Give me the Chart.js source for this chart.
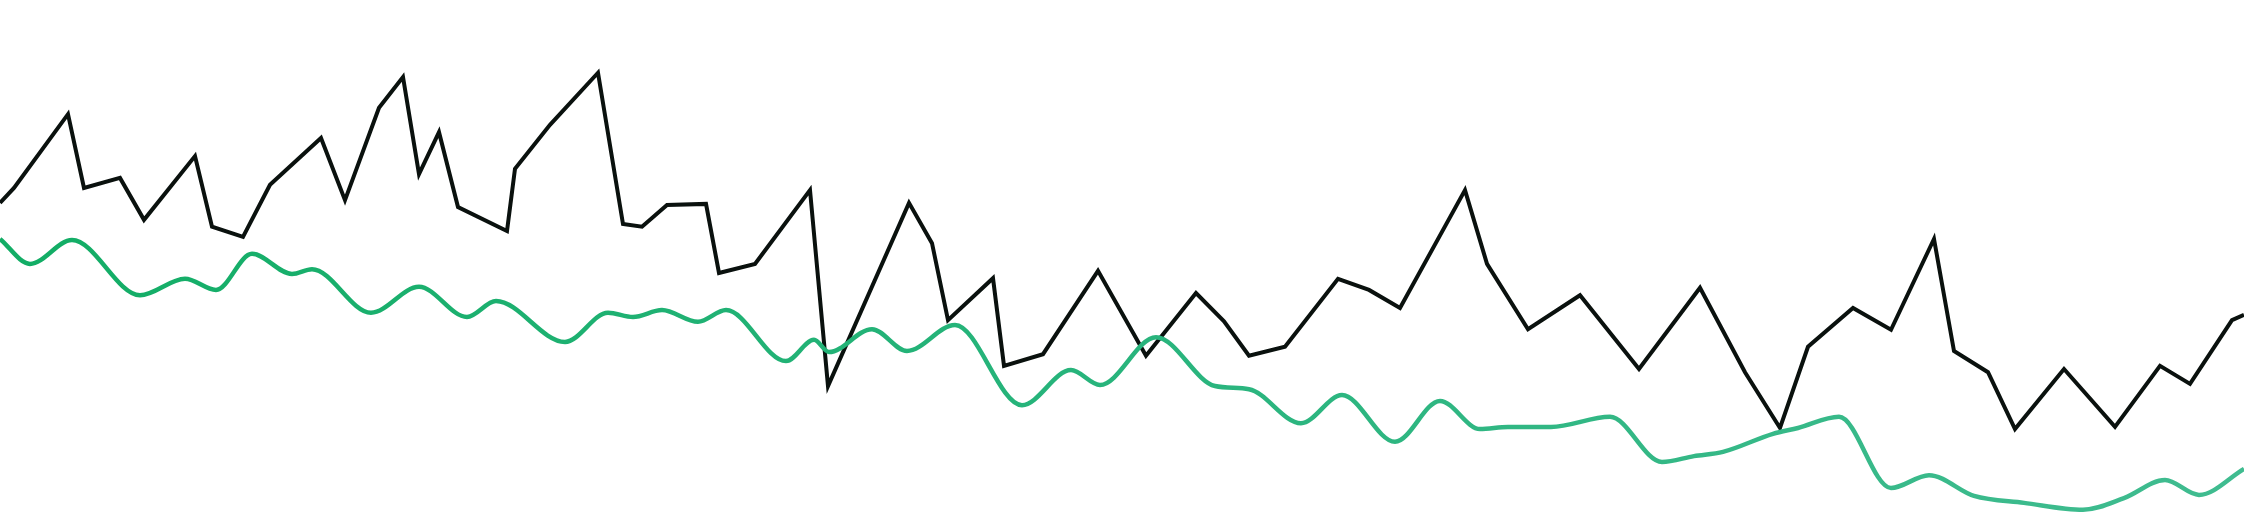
<!DOCTYPE html>
<html>
<head>
<meta charset="utf-8">
<title>Two series</title>
<script src="https://cdn.jsdelivr.net/npm/chart.js@4.4.1/dist/chart.umd.min.js"></script>
<style>
  html, body { margin: 0; padding: 0; background: #fff; overflow: hidden; }
  #wrap { width: 2244px; height: 531px; }
</style>
</head>
<body>
<div id="wrap"><canvas id="seriesChart" width="2244" height="531"></canvas></div>
<script>
// time index (x) and value (y) for the black series
const blackT = [0, 1.4, 6.8, 8.4, 12.0, 14.4, 19.5, 21.2, 24.3, 27.0, 32.1, 34.5, 37.9, 40.3, 41.9, 43.9, 45.8, 50.7, 51.5, 55.0,
  59.8, 62.3, 64.2, 66.7, 70.6, 71.9, 75.5, 81.0, 82.8, 90.9, 93.2, 94.8, 99.3, 100.4, 104.3, 109.8, 114.6, 119.6, 122.4, 124.9,
  128.5, 133.8, 136.9, 140.0, 146.5, 148.7, 152.8, 158.0, 163.9, 170.0, 174.5, 178.0, 180.8, 185.3, 189.1, 193.4, 195.4, 198.8,
  201.5, 206.4, 211.5, 216.0, 219.0, 223.2, 224.4];
const blackV = [61.8, 64.6, 78.5, 64.6, 66.5, 58.6, 70.6, 57.3, 55.4, 65.2, 74.0, 62.3, 79.7, 85.5, 67.2, 75.1, 61.0, 56.5, 68.2, 76.5,
  86.3, 57.8, 57.3, 61.4, 61.6, 48.6, 50.3, 64.2, 27.3, 61.8, 54.2, 39.7, 47.6, 31.1, 33.3, 49.0, 33.0, 44.8, 39.5, 33.0,
  34.7, 47.5, 45.4, 42.0, 64.2, 50.3, 38.0, 44.4, 30.5, 45.8, 29.9, 19.4, 34.7, 42.0, 37.9, 55.0, 33.9, 29.9,
  19.2, 30.5, 19.6, 31.1, 27.7, 39.7, 40.7];

// time index (x) and value (y) for the green series
const greenT = [0, 3.0, 7.2, 14.0, 18.5, 21.6, 25.2, 29.2, 31.2, 37.1, 41.9, 46.7, 49.6, 56.5, 60.8, 63.3, 66.2, 69.8, 72.6, 78.6,
  81.4, 82.9, 87.2, 90.7, 95.5, 102.2, 107.1, 110.0, 115.6, 121.5, 124.9, 130.1, 134.2, 139.5, 144.0, 148.0, 150.8, 155.1, 161.0,
  166.2, 169.4, 172.3, 177.3, 179.8, 183.9, 189.1, 192.9, 197.4, 202.4, 208.3, 212.4, 216.5, 219.9, 224.4];
const greenV = [55.0, 50.3, 54.8, 44.4, 47.5, 45.4, 52.2, 48.4, 49.3, 41.1, 46.0, 40.3, 43.3, 35.6, 41.1, 40.3, 41.6, 39.4, 41.6, 32.0,
  36.0, 33.7, 38.0, 33.9, 38.8, 23.7, 30.3, 27.5, 36.5, 27.3, 26.7, 20.3, 25.6, 16.8, 24.5, 19.2, 19.6, 19.6, 21.5,
  13.0, 14.1, 14.9, 18.3, 19.4, 21.5, 8.1, 10.5, 6.6, 5.3, 4.0, 6.2, 9.6, 6.8, 11.7];

const tRange = [0, 224.4];
const vRange = [0, 100];

document.addEventListener('DOMContentLoaded', () => {
  renderSeriesChart();
});

function toPoints(ts, vs) {
  return ts.map((t, i) => ({ x: t, y: vs[i] }));
}

function greenGradient(context) {
  const chart = context.chart;
  const area = chart.chartArea;
  if (!area) return '#1fb275';
  const g = chart.ctx.createLinearGradient(area.left, 0, area.right, 0);
  g.addColorStop(0, '#12ad65');
  g.addColorStop(0.5, '#28b47c');
  g.addColorStop(1, '#40bc90');
  return g;
}

function renderSeriesChart() {
  const ctx = document.getElementById('seriesChart').getContext('2d');
  new Chart(ctx, {
    type: 'line',
    data: {
      datasets: [{
        label: 'green',
        data: toPoints(greenT, greenV),
        borderColor: greenGradient,
        borderWidth: 4.5,
        cubicInterpolationMode: 'monotone',
        pointRadius: 0,
        fill: false,
        order: 0
      }, {
        label: 'black',
        data: toPoints(blackT, blackV),
        borderColor: '#0a110e',
        borderWidth: 4,
        tension: 0,
        pointRadius: 0,
        fill: false,
        order: 1
      }]
    },
    options: {
      responsive: false,
      animation: false,
      devicePixelRatio: 1,
      layout: { padding: 0 },
      plugins: { legend: { display: false }, tooltip: { enabled: false } },
      scales: {
        x: { type: 'linear', min: tRange[0], max: tRange[1], display: false },
        y: { type: 'linear', min: vRange[0], max: vRange[1], display: false }
      }
    }
  });
}
</script>
</body>
</html>
